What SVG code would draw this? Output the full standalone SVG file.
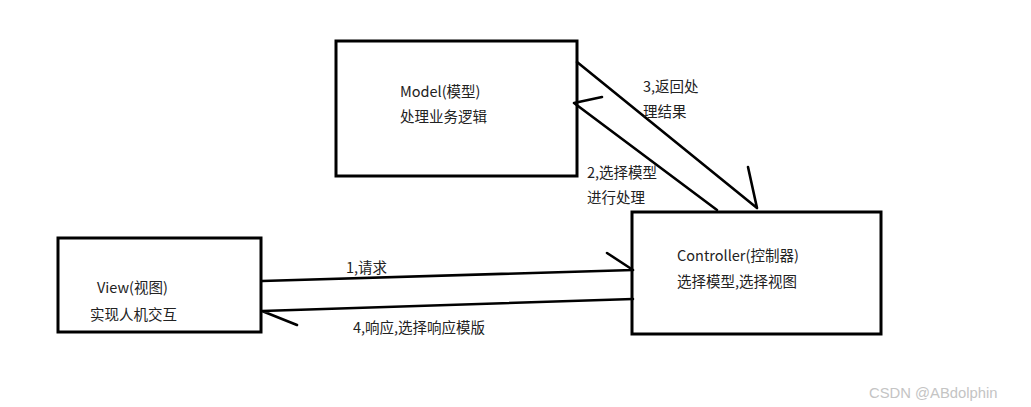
<svg xmlns="http://www.w3.org/2000/svg" width="1031" height="407" viewBox="0 0 1031 407">
<style>
.box{fill:#fff;stroke:#000;stroke-width:3}
.ln{fill:none;stroke:#000;stroke-width:2.6;stroke-linecap:round}
text{font-family:"Noto Sans CJK SC","Noto Sans",sans-serif;font-size:14.5px;fill:#222}
.wm{font-family:"Liberation Sans",Arial,sans-serif;font-size:14.8px;fill:#c4c4c4}
</style>
<rect width="1031" height="407" fill="#fff"/>
<g id="model">
<rect class="box" x="336" y="41" width="241" height="135"/>
<text x="400" y="97">Model(模型)</text>
<text x="400" y="122">处理业务逻辑</text>
</g>
<g id="controller">
<rect class="box" x="632" y="212" width="249" height="122"/>
<text x="677" y="261">Controller(控制器)</text>
<text x="677" y="287">选择模型,选择视图</text>
</g>
<g id="view">
<rect class="box" x="58" y="238" width="203" height="94"/>
<text x="97" y="293">View(视图)</text>
<text x="90" y="320">实现人机交互</text>
</g>
<g id="connectors">
<path class="ln" d="M577 62 L757 208 M748 167 L757 208"/>
<path class="ln" d="M717 210 L574 103 M574 103 L602 97"/>
<path class="ln" d="M262 281 L633 270 M607 253 L633 270"/>
<path class="ln" d="M633 299 L262 311 M262 311 L297 325"/>
<text x="643" y="92">3,返回处</text>
<text x="643" y="117">理结果</text>
<text x="587" y="178">2,选择模型</text>
<text x="587" y="203">进行处理</text>
<text x="346" y="273">1,请求</text>
<text x="353" y="333">4,响应,选择响应模版</text>
</g>
<text class="wm" x="869" y="398">CSDN @ABdolphin</text>
</svg>
